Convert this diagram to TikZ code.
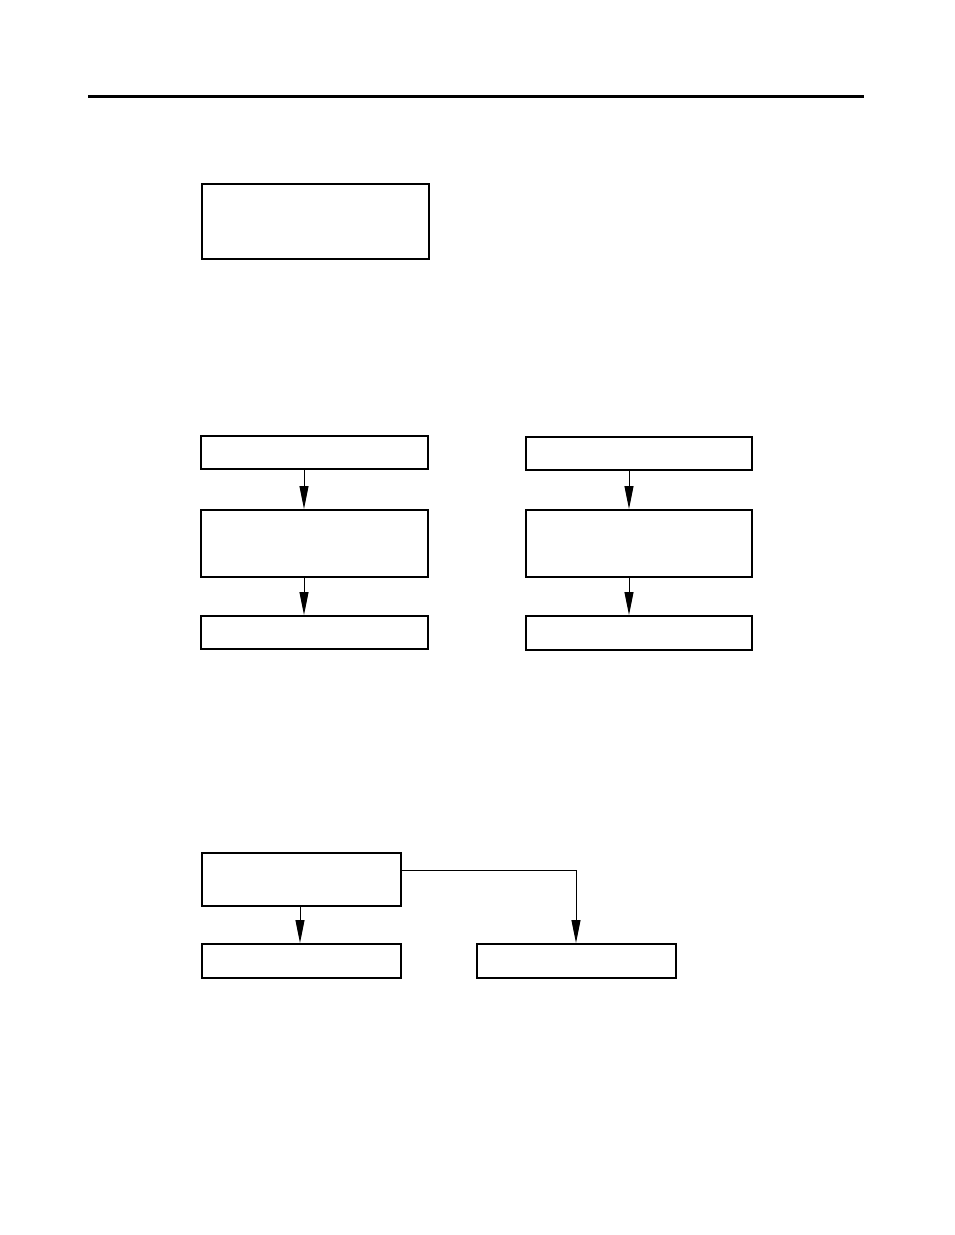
\documentclass[tikz,border=0pt]{standalone}
\usetikzlibrary{arrows.meta}
\begin{document}
\begin{tikzpicture}[x=1pt, y=-1pt,
  box/.style={draw, line width=2pt, rectangle, inner sep=0pt},
  link/.style={line width=1pt, -{Triangle[length=23pt,width=9pt]}}]
\useasboundingbox (0,0) rectangle (954,1235);
\node[coordinate] (rl) at (88,96){};
\node[coordinate] (rr) at (864,96){};
\draw[line width=3pt](rl) -- (rr);
\node[box, minimum width=227, minimum height=75] (top) at (315.5,221.5){};
\node[box, minimum width=227, minimum height=33] (l1) at (314.5,452.5){};
\node[box, minimum width=227, minimum height=67] (l2) at (314.5,543.5){};
\node[box, minimum width=227, minimum height=33] (l3) at (314.5,632.5){};
\draw[link](l1.south -| 304,0) -- (l2.north -| 304,0);
\draw[link](l2.south -| 304,0) -- (l3.north -| 304,0);
\node[box, minimum width=226, minimum height=33] (r1) at (639,453.5){};
\node[box, minimum width=226, minimum height=67] (r2) at (639,543.5){};
\node[box, minimum width=226, minimum height=34] (r3) at (639,633){};
\draw[link](r1.south -| 629,0) -- (r2.north -| 629,0);
\draw[link](r2.south -| 629,0) -- (r3.north -| 629,0);
\node[box, minimum width=199, minimum height=53] (b0) at (301.5,879.5){};
\node[box, minimum width=199, minimum height=34] (b1) at (301.5,961){};
\node[box, minimum width=199, minimum height=34] (b2) at (576.5,961){};
\draw[link](b0.south -| 300,0) -- (b1.north -| 300,0);
\draw[link](b0.east |- 0,870) -| (b2.north -| 576,0);
\end{tikzpicture}
\end{document}
